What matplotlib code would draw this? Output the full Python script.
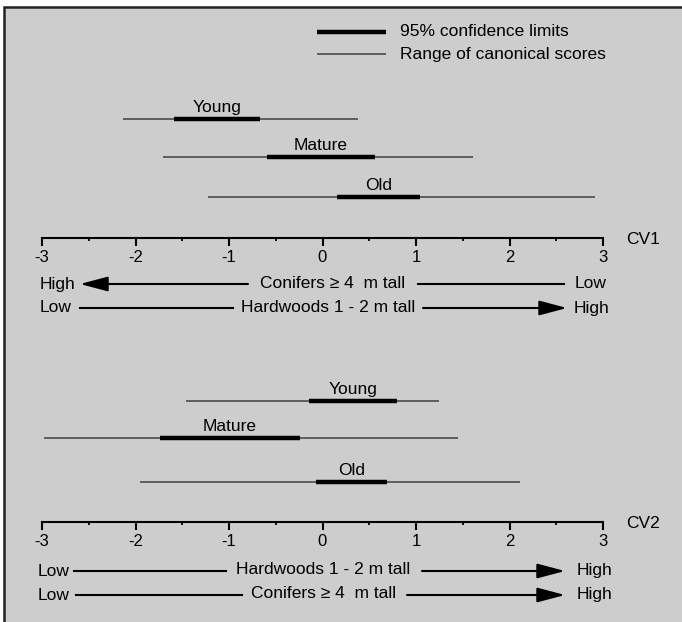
import numpy as np
import matplotlib
matplotlib.use('Agg')
import matplotlib.pyplot as plt
from matplotlib.patches import Rectangle

plt.rcParams['font.family'] = ['Liberation Sans', 'DejaVu Sans']

# ── data (canonical scores) ───────────────────────────────────────────────────
groups = ['Young', 'Mature', 'Old']

cv1_range_lo = [-2.13, -1.71, -1.22]
cv1_range_hi = [0.38, 1.61, 2.91]
cv1_ci_lo = [-1.59, -0.59, 0.15]
cv1_ci_hi = [-0.67, 0.56, 1.04]

cv2_range_lo = [-1.46, -2.98, -1.95]
cv2_range_hi = [1.25, 1.45, 2.11]
cv2_ci_lo = [-0.14, -1.74, -0.07]
cv2_ci_hi = [0.80, -0.24, 0.69]

major_ticks = [-3, -2, -1, 0, 1, 2, 3]
minor_ticks = [-2.5, -1.5, -0.5, 0.5, 1.5, 2.5]
tick_labels = ['-3', '-2', '-1', '0', '1', '2', '3']

# ── layout (pixels) ───────────────────────────────────────────────────────────
W, H = 682, 622
dpi = 100
BG = '#cdcdcd'
FS = 12.5
# x mapping: -3 -> 42 px, 3 -> 603 px
PX_PER_UNIT = (603 - 42) / 6.0
XLIM = (-3 - 42 / PX_PER_UNIT, -3 + (W - 42) / PX_PER_UNIT)

fig = plt.figure(figsize=(W / dpi, H / dpi), dpi=dpi)
fig.patch.set_facecolor('white')

# background axes in pixel coordinates for frame / legend / direction arrows
bg = fig.add_axes([0, 0, 1, 1])
bg.set_xlim(0, W)
bg.set_ylim(H, 0)
bg.axis('off')
bg.add_patch(Rectangle((4, 7), W + 20, H + 20, facecolor=BG,
                       edgecolor='#222222', linewidth=1.8, zorder=0))

# legend
bg.plot([317, 386], [32, 32], color='black', lw=3.2, solid_capstyle='butt')
bg.plot([317, 386], [54, 54], color='#555555', lw=1.3, solid_capstyle='butt')
bg.text(400, 31, '95% confidence limits', fontsize=FS, va='center', ha='left')
bg.text(400, 54, 'Range of canonical scores', fontsize=FS, va='center', ha='left')


def arrow(x0, x1, y):
    bg.annotate('', xy=(x1, y), xytext=(x0, y),
                arrowprops=dict(arrowstyle='-|>,head_length=1.7,head_width=0.45',
                                mutation_scale=10, lw=1.5, color='black',
                                shrinkA=0, shrinkB=0))


def line(x0, x1, y):
    bg.plot([x0, x1], [y, y], color='black', lw=1.5)


def words(x, y, s, ha='left'):
    bg.text(x, y, s, fontsize=FS, ha=ha, va='center')


# CV1 direction rows
words(40, 284, 'High')
arrow(248, 80, 284)
words(333, 283, 'Conifers \u2265 4  m tall', ha='center')
line(418, 564, 284)
words(575, 284, 'Low')

words(40, 308, 'Low')
line(80, 233, 308)
words(328, 307, 'Hardwoods 1 - 2 m tall', ha='center')
arrow(423, 567, 308)
words(574, 308, 'High')

# CV2 direction rows
words(38, 571, 'Low')
line(74, 226, 571)
words(323, 570, 'Hardwoods 1 - 2 m tall', ha='center')
arrow(422, 565, 571)
words(577, 570, 'High')

words(38, 595, 'Low')
line(76, 242, 595)
words(324, 594, 'Conifers \u2265 4  m tall', ha='center')
arrow(407, 565, 595)
words(577, 594, 'High')


def panel(top_px, axis_px, rows, rlo, rhi, clo, chi, name):
    ax = fig.add_axes([0, (H - axis_px) / H, 1, (axis_px - top_px) / H])
    ax.set_xlim(*XLIM)
    ax.set_ylim(axis_px, top_px)
    ax.patch.set_alpha(0)
    for s in ('top', 'left', 'right'):
        ax.spines[s].set_visible(False)
    ax.spines['bottom'].set_bounds(-3, 3)
    ax.spines['bottom'].set_linewidth(1.5)
    ax.set_yticks([])
    ax.set_xticks(major_ticks)
    ax.set_xticklabels(tick_labels, fontsize=12)
    ax.set_xticks(minor_ticks, minor=True)
    ax.tick_params(axis='x', which='major', direction='out', length=5.5,
                   width=1.5, pad=3)
    ax.tick_params(axis='x', which='minor', direction='out', length=2.5,
                   width=1.3)
    ax.hlines(rows, rlo, rhi, color='#555555', lw=1.3)
    ax.hlines(rows, clo, chi, color='black', lw=3.2)
    for g, y, a, b in zip(groups, rows, clo, chi):
        ax.text((a + b) / 2, y - 4, g, fontsize=FS, ha='center', va='bottom')
    ax.text(-3 + (626 - 42) / PX_PER_UNIT, axis_px + 2, name, fontsize=FS,
            ha='left', va='center', clip_on=False)
    return ax


panel(0, 238, [119, 157, 197], cv1_range_lo, cv1_range_hi, cv1_ci_lo, cv1_ci_hi, 'CV1')
panel(320, 522, [401, 438, 482], cv2_range_lo, cv2_range_hi, cv2_ci_lo, cv2_ci_hi, 'CV2')

fig.savefig('out.png', dpi=dpi, facecolor=fig.get_facecolor())
plt.close(fig)
